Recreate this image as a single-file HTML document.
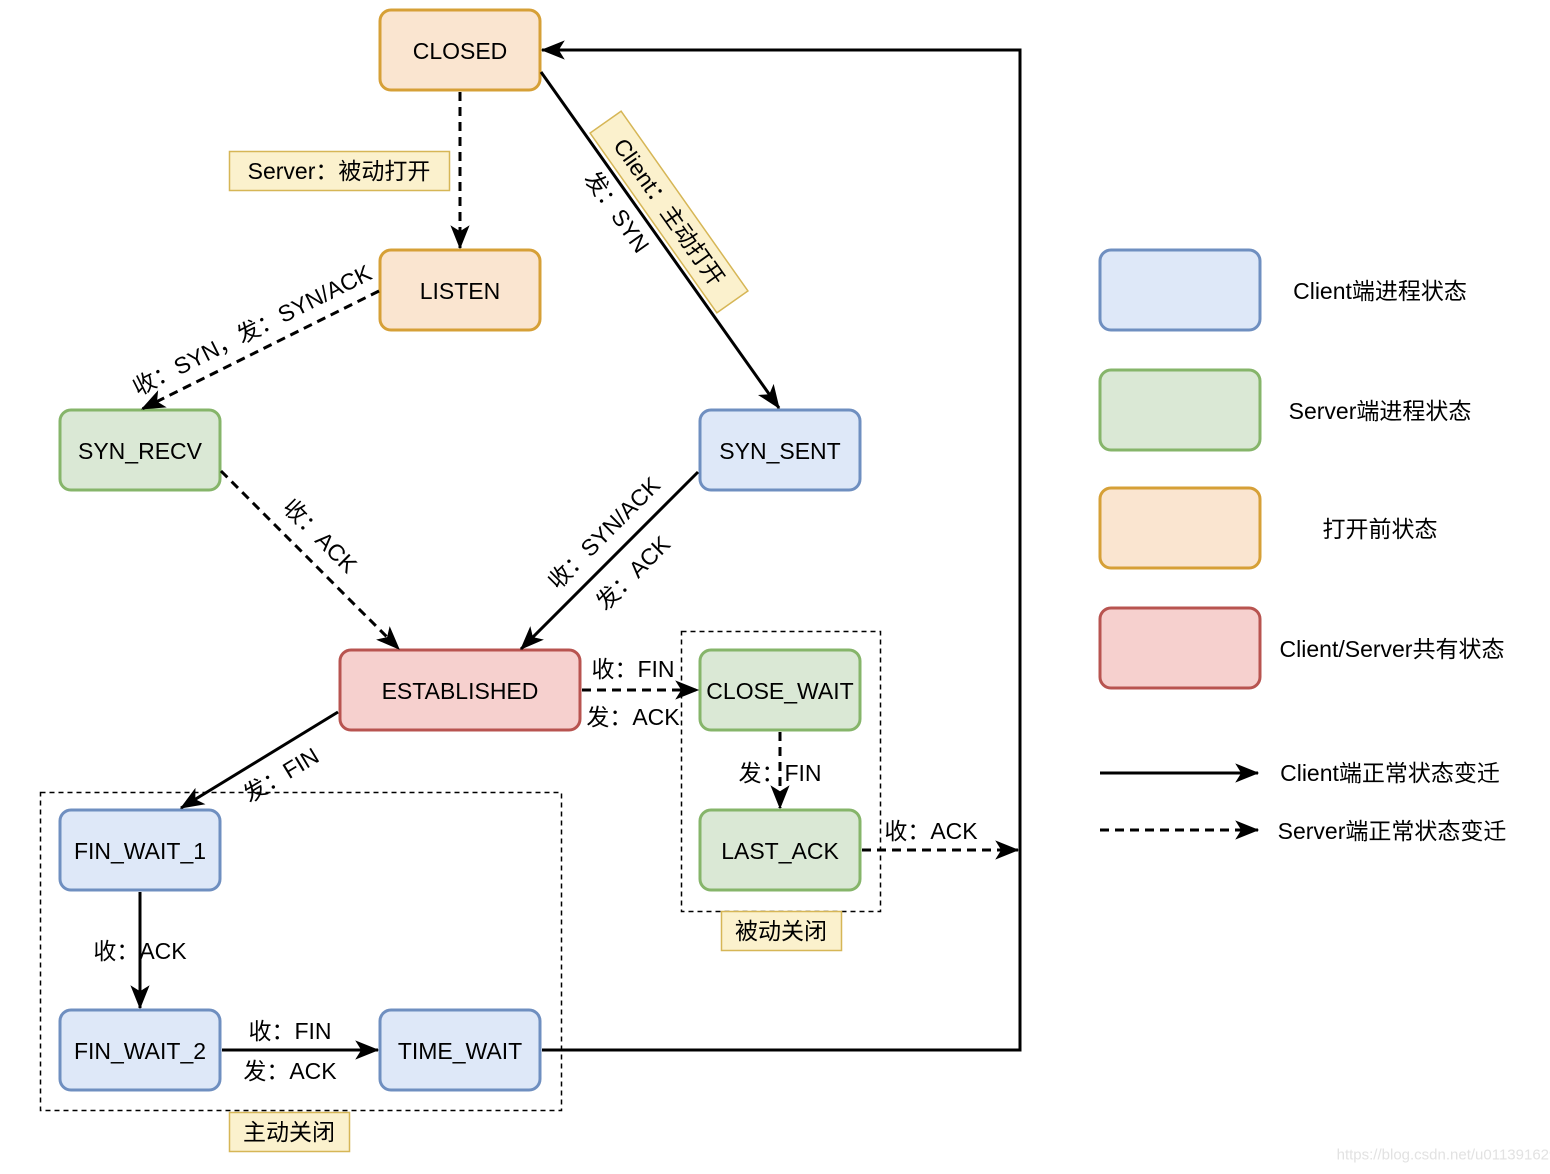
<!DOCTYPE html>
<html><head><meta charset="utf-8"><style>
html,body{margin:0;padding:0;background:#fff;}
svg{display:block;}
text{font-family:"Liberation Sans","Noto Sans CJK SC",sans-serif;font-size:23px;fill:#000;}
</style></head><body>
<svg width="1550" height="1174" viewBox="0 0 1550 1174" xmlns="http://www.w3.org/2000/svg">
<defs>
<marker id="a" viewBox="0 0 20 20" refX="19" refY="10" markerWidth="24" markerHeight="24" markerUnits="userSpaceOnUse" orient="auto" overflow="visible">
<path d="M0,2 L20,10 L0,18 L5,10 Z" fill="#000"/>
</marker>
</defs>
<g stroke-width="3">
<rect x="380" y="10" width="160" height="80" rx="11" fill="#fae5d0" stroke="#d6a037"/>
<rect x="380" y="250" width="160" height="80" rx="11" fill="#fae5d0" stroke="#d6a037"/>
<rect x="60" y="410" width="160" height="80" rx="11" fill="#dae8d5" stroke="#86b56a"/>
<rect x="700" y="410" width="160" height="80" rx="11" fill="#dee8f8" stroke="#6f8fc0"/>
<rect x="340" y="650" width="240" height="80" rx="11" fill="#f6d0ce" stroke="#b85450"/>
<rect x="700" y="650" width="160" height="80" rx="11" fill="#dae8d5" stroke="#86b56a"/>
<rect x="700" y="810" width="160" height="80" rx="11" fill="#dae8d5" stroke="#86b56a"/>
<rect x="60" y="810" width="160" height="80" rx="11" fill="#dee8f8" stroke="#6f8fc0"/>
<rect x="60" y="1010" width="160" height="80" rx="11" fill="#dee8f8" stroke="#6f8fc0"/>
<rect x="380" y="1010" width="160" height="80" rx="11" fill="#dee8f8" stroke="#6f8fc0"/>
<rect x="1100" y="250" width="160" height="80" rx="11" fill="#dee8f8" stroke="#6f8fc0"/>
<rect x="1100" y="370" width="160" height="80" rx="11" fill="#dae8d5" stroke="#86b56a"/>
<rect x="1100" y="488" width="160" height="80" rx="11" fill="#fae5d0" stroke="#d6a037"/>
<rect x="1100" y="608" width="160" height="80" rx="11" fill="#f6d0ce" stroke="#b85450"/>
</g>
<rect x="40.5" y="792.5" width="521" height="318" fill="none" stroke="#000" stroke-width="1.5" stroke-dasharray="5,4"/>
<rect x="681.5" y="631.5" width="199" height="280" fill="none" stroke="#000" stroke-width="1.5" stroke-dasharray="5,4"/>
<g stroke="#000" stroke-width="3" fill="none">
<line x1="460" y1="92" x2="460" y2="248" stroke-dasharray="9,6" marker-end="url(#a)"/>
<line x1="541" y1="72" x2="779" y2="408" marker-end="url(#a)"/>
<line x1="379" y1="291" x2="142" y2="409" stroke-dasharray="9,6" marker-end="url(#a)"/>
<line x1="221" y1="471" x2="399" y2="649" stroke-dasharray="9,6" marker-end="url(#a)"/>
<line x1="698" y1="472" x2="521" y2="649" marker-end="url(#a)"/>
<line x1="582" y1="690" x2="698" y2="690" stroke-dasharray="9,6" marker-end="url(#a)"/>
<line x1="338" y1="712" x2="181" y2="808" marker-end="url(#a)"/>
<line x1="780" y1="732" x2="780" y2="808" stroke-dasharray="9,6" marker-end="url(#a)"/>
<line x1="862" y1="850" x2="1018" y2="850" stroke-dasharray="9,6" marker-end="url(#a)"/>
<line x1="140" y1="892" x2="140" y2="1008" marker-end="url(#a)"/>
<line x1="222" y1="1050" x2="378" y2="1050" marker-end="url(#a)"/>
<polyline points="542,1050 1020,1050 1020,50 542,50" marker-end="url(#a)"/>
<line x1="1100" y1="773" x2="1258" y2="773" marker-end="url(#a)"/>
<line x1="1100" y1="830" x2="1258" y2="830" stroke-dasharray="9,6" marker-end="url(#a)"/>
</g>
<g fill="#fbf1cd" stroke="#d6b656" stroke-width="1.5">
<rect x="229.5" y="151.5" width="220" height="39"/>
<rect x="229.5" y="1112.5" width="120" height="39"/>
<rect x="721.5" y="911.5" width="120" height="39"/>
<rect x="-110" y="-19" width="220" height="38" transform="translate(669,212) rotate(54.8)"/>
</g>
<g text-anchor="middle" dominant-baseline="central">
<text x="460" y="51">CLOSED</text>
<text x="460" y="291">LISTEN</text>
<text x="140" y="451">SYN_RECV</text>
<text x="780" y="451">SYN_SENT</text>
<text x="460" y="691">ESTABLISHED</text>
<text x="780" y="691">CLOSE_WAIT</text>
<text x="780" y="851">LAST_ACK</text>
<text x="140" y="851">FIN_WAIT_1</text>
<text x="140" y="1051">FIN_WAIT_2</text>
<text x="460" y="1051">TIME_WAIT</text>
<text x="339" y="171">Server：被动打开</text>
<text x="289" y="1132">主动关闭</text>
<text x="781" y="931">被动关闭</text>
<text transform="translate(669,212) rotate(54.8)">Client：主动打开</text>
<text transform="translate(617,212) rotate(54.8)">发：SYN</text>
<text transform="translate(252,330) rotate(-26.6)">收：SYN，发：SYN/ACK</text>
<text transform="translate(320,536) rotate(45)">收：ACK</text>
<text transform="translate(604,533) rotate(-45)">收：SYN/ACK</text>
<text transform="translate(633,573) rotate(-45)">发：ACK</text>
<text x="633" y="669">收：FIN</text>
<text x="633" y="717">发：ACK</text>
<text transform="translate(281,775) rotate(-31)">发：FIN</text>
<text x="780" y="773">发：FIN</text>
<text x="931" y="831">收：ACK</text>
<text x="140" y="951">收：ACK</text>
<text x="290" y="1031">收：FIN</text>
<text x="290" y="1071">发：ACK</text>
<text x="1380" y="291">Client端进程状态</text>
<text x="1380" y="411">Server端进程状态</text>
<text x="1380" y="529">打开前状态</text>
<text x="1392" y="649">Client/Server共有状态</text>
<text x="1390" y="773">Client端正常状态变迁</text>
<text x="1392" y="831">Server端正常状态变迁</text>
<text x="1447" y="1155" style="font-size:15px;fill:#e2e2e2">https://blog.csdn.net/u011391629</text>
</g>
</svg>
</body></html>
